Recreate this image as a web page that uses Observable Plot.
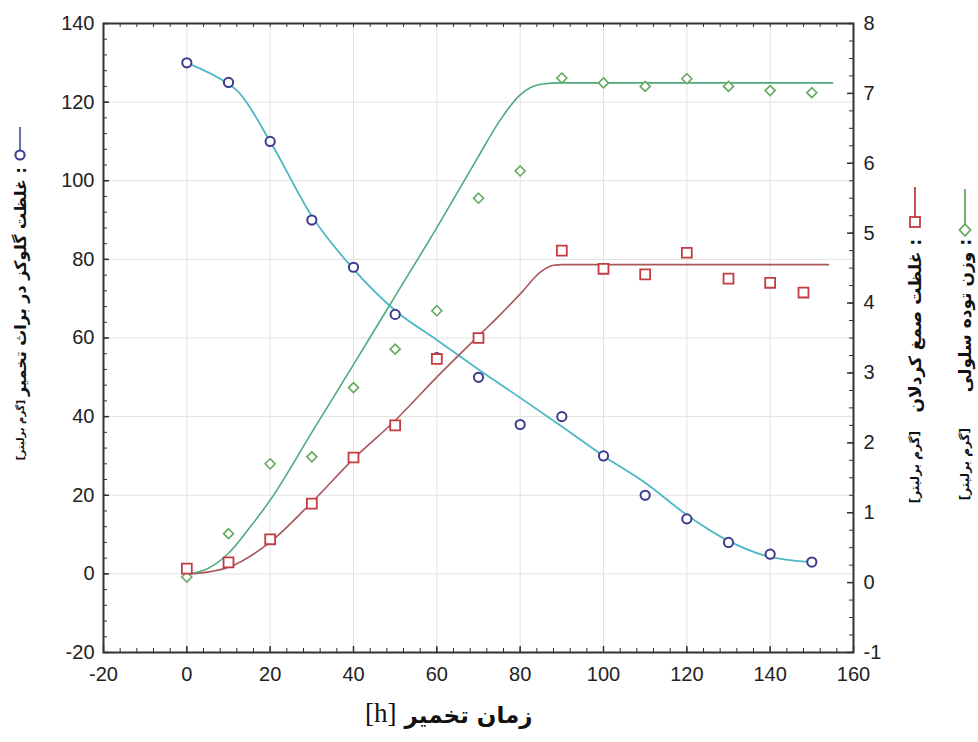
<!DOCTYPE html>
<html><head><meta charset="utf-8">
<script src="https://cdn.jsdelivr.net/npm/d3@7"></script>
<script src="https://cdn.jsdelivr.net/npm/@observablehq/plot@0.6"></script>
<style>body{margin:0;background:#fff} #chart{width:978px;height:742px}</style>
</head><body><div id="chart"></div>
<script>
// ---------- data ----------
// glucose concentration (left axis, g/L)
const glucoseHours = [0,10,20,30,40,50,60,70,80,90,100,110,120,130,140,150];
const glucose      = [130,125,110,90,78,66,55,50,38,40,30,20,14,8,5,3];
const glucoseFitHours = [0,10,12,20,30,40,50,60,70,80,90,100,110,120,130,140,150];
const glucoseFit      = [130,124.6,123,110,91,77.5,67,59.5,52,44.8,37.5,30,23.2,15,8.4,4.3,3];
// curdlan gum concentration (right axis, g/L)
const gumHours = [0,10,20,30,40,50,60,70,90,100,110,120,130,140,148];
const gum      = [0.20,0.29,0.62,1.13,1.79,2.25,3.20,3.50,4.75,4.49,4.41,4.72,4.35,4.29,4.15];
const gumFitHours = [0,5,10,20,30,40,50,60,70,75,80,85,88,90,154];
const gumFit      = [0.125,0.15,0.22,0.58,1.15,1.77,2.32,2.94,3.53,3.82,4.13,4.45,4.54,4.55,4.55];
// cell biomass (right axis, g/L)
const biomassHours = [0,10,20,30,40,50,60,70,80,90,100,110,120,130,140,150];
const biomass      = [0.08,0.70,1.70,1.80,2.79,3.34,3.89,5.50,5.89,7.22,7.15,7.10,7.21,7.10,7.04,7.01];
const biomassFitHours = [0,5,10,15,20,30,40,50,60,70,75,80,85,90,155];
const biomassFit      = [0.125,0.2,0.42,0.78,1.18,2.15,3.12,4.1,5.08,6.1,6.6,6.98,7.13,7.15,7.15];

// tick labels
const xTicks = [-20,0,20,40,60,80,100,120,140,160];
const yLeftTicks = [-20,0,20,40,60,80,100,120,140];
const yRightTicks = [-1,0,1,2,3,4,5,6,7,8];

// texts
const xTitle = "زمان تخمیر";
const xUnit = "[h]";
const glucoseLabel = "غلظت گلوکز در براث تخمیر :";
const gumLabel = "غلظت صمغ کردلان :";
const biomassLabel = "وزن توده سلولی :";
const unitLabel = "[گرم برلیتر]";

// ---------- layout ----------
const W = 978, H = 742, mL = 103, mR = 125, mT = 23, mB = 90;
const innerW = W - mL - mR, innerH = H - mT - mB;
// right axis (-1..8) shares the frame with left axis (-20..140)
const toLeft = v => -20 + (v + 1) * 160 / 9;
const toRight = y => (y + 20) * 9 / 160 - 1;

const zip = (xs, ys) => xs.map((h, i) => ({h, v: ys[i]}));
const glucosePts = zip(glucoseHours, glucose), glucoseLine = zip(glucoseFitHours, glucoseFit);
const gumPts = zip(gumHours, gum), gumLine = zip(gumFitHours, gumFit);
const bioPts = zip(biomassHours, biomass), bioLine = zip(biomassFitHours, biomassFit);

const xGrid = d3.range(0, 141, 20);
const yGrid = d3.range(0, 121, 20);
const xMinor = d3.range(-20, 161, 4);
const yMinor = d3.range(-20, 141, 4);
const rMinor = d3.range(-1, 8.001, 0.25).map(toLeft);

const C = {
  gluLine: "#4cb8c6", gluDot: "#3b3b8f",
  gumLine: "#a9565c", gumDot: "#c43b42",
  bioLine: "#4fab7a", bioDot: "#62a95e",
  axis: "#333"
};
const faFont = "'DejaVu Sans', sans-serif";

const plot = Plot.plot({
  width: W, height: H, marginLeft: mL, marginRight: mR, marginTop: mT, marginBottom: mB,
  x: {domain: [-20, 160]},
  y: {domain: [-20, 140]},
  style: {fontFamily: "'Liberation Sans', Arial, sans-serif", fontSize: "20px", color: "#222", background: "#fff", overflow: "visible"},
  marks: [
    Plot.gridX(xGrid, {stroke: "#e2e2e2", strokeOpacity: 1}),
    Plot.gridY(yGrid, {stroke: "#e2e2e2", strokeOpacity: 1}),
    // inward ticks
    Plot.tickX(xMinor, {x: d => d, insetTop: innerH - 4, stroke: C.axis}),
    Plot.tickX(xMinor, {x: d => d, insetBottom: innerH - 4, stroke: C.axis}),
    Plot.tickX(xTicks, {x: d => d, insetTop: innerH - 6, stroke: C.axis, strokeWidth: 1.5}),
    Plot.tickY(yMinor, {y: d => d, insetRight: innerW - 4, stroke: C.axis}),
    Plot.tickY(yLeftTicks, {y: d => d, insetRight: innerW - 6, stroke: C.axis, strokeWidth: 1.5}),
    Plot.tickY(rMinor, {y: d => d, insetLeft: innerW - 4, stroke: C.axis}),
    Plot.tickY(yRightTicks.map(toLeft), {y: d => d, insetLeft: innerW - 6, stroke: C.axis, strokeWidth: 1.5}),
    Plot.axisX(xTicks, {tickSize: 0, tickPadding: 14, tickFormat: d => String(d), label: null}),
    Plot.axisY(yLeftTicks, {anchor: "left", tickSize: 0, tickPadding: 9, tickFormat: d => String(d), label: null}),
    Plot.axisY(yRightTicks.map(toLeft), {anchor: "right", tickSize: 0, tickPadding: 10, tickFormat: y => String(Math.round(toRight(y))), label: null}),
    Plot.frame({stroke: C.axis, strokeWidth: 2}),
    // fitted curves
    Plot.line(glucoseLine, {x: "h", y: "v", stroke: C.gluLine, strokeWidth: 1.8, curve: "monotone-x"}),
    Plot.line(gumLine, {x: "h", y: d => toLeft(d.v), stroke: C.gumLine, strokeWidth: 1.6, curve: "monotone-x"}),
    Plot.line(bioLine, {x: "h", y: d => toLeft(d.v), stroke: C.bioLine, strokeWidth: 1.6, curve: "monotone-x"}),
    // measured points
    Plot.dot(bioPts, {x: "h", y: d => toLeft(d.v), symbol: "diamond2", r: 4.5, stroke: C.bioDot, strokeWidth: 1.6, fill: "white"}),
    Plot.dot(glucosePts, {x: "h", y: "v", r: 4.6, stroke: C.gluDot, strokeWidth: 2, fill: "white"}),
    Plot.dot(gumPts, {x: "h", y: d => toLeft(d.v), symbol: "square2", r: 6.3, stroke: C.gumDot, strokeWidth: 1.8, fill: "white"}),
    // axis titles
    Plot.text([xTitle], {text: d => d, frameAnchor: "bottom", dx: -74, dy: 70, textAnchor: "start", fontFamily: faFont, fontWeight: "bold", fontSize: 23, fill: "#111"}),
    Plot.text([xUnit], {text: d => d, frameAnchor: "bottom", dx: -82, dy: 69, textAnchor: "end", fontFamily: "'Liberation Serif', serif", fontSize: 27, fill: "#111"}),
    Plot.text([glucoseLabel], {text: d => d, frameAnchor: "left", dx: -83, dy: -171, rotate: -90, textAnchor: "end", fontFamily: faFont, fontWeight: "bold", fontSize: 16, fill: "#111"}),
    Plot.text([unitLabel], {text: d => d, frameAnchor: "left", dx: -83, dy: 62, rotate: -90, textAnchor: "end", fontFamily: faFont, fontWeight: "bold", fontSize: 10, fill: "#111"}),
    Plot.text([gumLabel], {text: d => d, frameAnchor: "right", dx: 62, dy: -99, rotate: -90, textAnchor: "end", fontFamily: faFont, fontWeight: "bold", fontSize: 17, fill: "#111"}),
    Plot.text([unitLabel], {text: d => d, frameAnchor: "right", dx: 62, dy: 93, rotate: -90, textAnchor: "end", fontFamily: faFont, fontWeight: "bold", fontSize: 12, fill: "#111"}),
    Plot.text([biomassLabel], {text: d => d, frameAnchor: "right", dx: 112, dy: -99, rotate: -90, textAnchor: "end", fontFamily: faFont, fontWeight: "bold", fontSize: 17, fill: "#111"}),
    Plot.text([unitLabel], {text: d => d, frameAnchor: "right", dx: 112, dy: 90, rotate: -90, textAnchor: "end", fontFamily: faFont, fontWeight: "bold", fontSize: 12, fill: "#111"})
  ]
});
document.getElementById("chart").appendChild(plot);

// legend glyphs next to the axis titles
const svg = d3.select(plot);
const g = svg.append("g").attr("fill", "white").attr("stroke-width", 1.8);
// glucose
g.append("line").attr("x1", 20).attr("x2", 20).attr("y1", 127).attr("y2", 150).attr("stroke", "#5663b4");
g.append("circle").attr("cx", 20).attr("cy", 155).attr("r", 4.6).attr("stroke", C.gluDot).attr("stroke-width", 2);
// gum
g.append("line").attr("x1", 915).attr("x2", 915).attr("y1", 187).attr("y2", 217).attr("stroke", C.gumDot);
g.append("rect").attr("x", 910).attr("y", 217).attr("width", 10).attr("height", 10).attr("stroke", C.gumDot);
// biomass
g.append("line").attr("x1", 965).attr("x2", 965).attr("y1", 189).attr("y2", 224).attr("stroke", C.bioDot);
g.append("path").attr("d", "M965,224L970.5,230L965,236L959.5,230Z").attr("stroke", C.bioDot);
</script>
</body></html>
